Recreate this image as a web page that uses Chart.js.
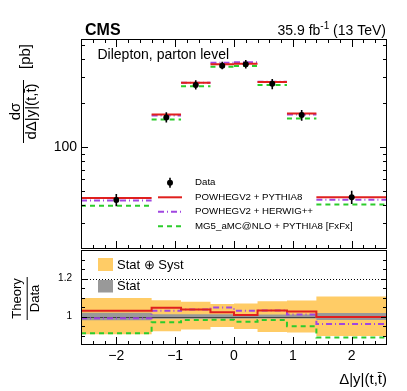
<!DOCTYPE html>
<html>
<head>
<meta charset="utf-8">
<script src="https://cdn.jsdelivr.net/npm/chart.js@4.4.1/dist/chart.umd.min.js"></script>
<style>
  html, body { margin: 0; padding: 0; background: #fff; }
  #wrap { position: relative; width: 407px; height: 391px; }
  #wrap canvas { position: absolute; left: 0; top: 0; }
</style>
</head>
<body>
<div id="wrap">
  <canvas id="ratioChart" width="407" height="391"></canvas>
  <canvas id="mainChart" width="407" height="391"></canvas>
</div>
<script>
// Bins in delta|y|(t,tbar)
const binEdges = [-2.6, -1.4, -0.9, -0.4, 0, 0.4, 0.9, 1.4, 2.6];
const dataX = [-2.0, -1.15, -0.65, -0.2, 0.2, 0.65, 1.15, 2.0];

// Measured cross sections [pb] and relative uncertainties
const dataValues = [43.4, 159.5, 266, 361, 369, 271, 165.5, 45.3];
const totUp = [0.097, 0.086, 0.077, 0.066, 0.068, 0.080, 0.084, 0.105];
const totDown = [0.094, 0.078, 0.068, 0.055, 0.066, 0.081, 0.084, 0.102];
const statUnc = [0.020, 0.012, 0.012, 0.012, 0.010, 0.010, 0.010, 0.018];

// Predictions [pb]
const powhegPythia = [44.7, 166.8, 275.8, 368.9, 372.0, 279.4, 169.8, 45.2];
const powhegHerwig = [43.0, 164.4, 275.8, 378.3, 380.4, 279.7, 167.2, 43.5];
const mg5Pythia = [39.6, 154.6, 261.2, 354.9, 358.7, 265.9, 157.1, 40.3];

// Axis labels
const yMainLabels = [100];
const yRatioLabels = [1, 1.2];
const xLabels = [-2, -1, 0, 1, 2];

const seriesNames = ['Data', 'POWHEGV2 + PYTHIA8', 'POWHEGV2 + HERWIG++', 'MG5_aMC@NLO + PYTHIA8 [FxFx]'];

const FONT = "'Liberation Sans', Arial, Helvetica, sans-serif";
const RED = '#e0201e';
const PURPLE = '#a046e0';
const GREEN = '#2ccc2c';
const ORANGE = '#ffcc66';
const GREY = '#999999';

Chart.defaults.font.family = FONT;
Chart.defaults.color = '#000';

// horizontal segment per bin (gaps between bins)
function binSegments(values) {
    const pts = [];
    values.forEach((v, i) => {
        pts.push({x: binEdges[i], y: v}, {x: binEdges[i + 1], y: v}, {x: binEdges[i + 1], y: null});
    });
    return pts;
}

// histogram-like stepped outline
function stepPoints(values) {
    const pts = values.map((v, i) => ({x: binEdges[i], y: v}));
    pts.push({x: binEdges[binEdges.length - 1], y: values[values.length - 1]});
    return pts;
}

function ratio(model) {
    return model.map((v, i) => v / dataValues[i]);
}

function legendLine(ctx, y, color, dash) {
    ctx.save();
    ctx.strokeStyle = color;
    ctx.lineWidth = 2;
    ctx.setLineDash(dash);
    ctx.beginPath();
    ctx.moveTo(158, y);
    ctx.lineTo(182, y);
    ctx.stroke();
    ctx.restore();
}

const mainDecor = {
    id: 'mainDecor',
    beforeDatasetDraw(chart, args) {
        if (args.index !== 0) return;
        const {ctx, scales: {x, y}} = chart;
        ctx.save();
        ctx.strokeStyle = '#000';
        ctx.lineWidth = 1.6;
        ctx.beginPath();
        dataX.forEach((xv, i) => {
            const px = x.getPixelForValue(xv);
            ctx.moveTo(px, y.getPixelForValue(dataValues[i] * (1 + totUp[i])));
            ctx.lineTo(px, y.getPixelForValue(dataValues[i] * (1 - totDown[i])));
        });
        ctx.stroke();
        ctx.restore();
    },
    afterDraw(chart) {
        const {ctx, chartArea: a, scales: {x, y}} = chart;
        ctx.save();
        ctx.strokeStyle = '#000';
        ctx.lineWidth = 1;
        ctx.strokeRect(a.left + 0.5, a.top + 0.5, a.right - a.left - 1, a.bottom - a.top - 1);

        ctx.beginPath();
        for (let k = -12; k <= 12; k++) {
            const px = Math.round(x.getPixelForValue(k / 5)) + 0.5;
            const len = k % 5 === 0 ? 8 : 4;
            ctx.moveTo(px, a.top); ctx.lineTo(px, a.top + len);
            ctx.moveTo(px, a.bottom); ctx.lineTo(px, a.bottom - len);
        }
        [10, 100].forEach(dec => {
            for (let m = 1; m <= 9; m++) {
                const v = m * dec;
                if (v <= y.min || v >= y.max) continue;
                const py = Math.round(y.getPixelForValue(v)) + 0.5;
                const len = m === 1 ? 7 : 4;
                ctx.moveTo(a.left, py); ctx.lineTo(a.left + len, py);
                ctx.moveTo(a.right, py); ctx.lineTo(a.right - len, py);
            }
        });
        ctx.stroke();

        // header texts
        ctx.fillStyle = '#000';
        ctx.textBaseline = 'alphabetic';
        ctx.textAlign = 'left';
        ctx.font = 'bold 16px ' + FONT;
        ctx.fillText('CMS', 85, 35);

        ctx.font = '14px ' + FONT;
        const w1 = ctx.measureText('35.9 fb').width;
        const w3 = ctx.measureText(' (13 TeV)').width;
        ctx.font = '10px ' + FONT;
        const w2 = ctx.measureText('-1').width;
        let x0 = 386 - (w1 + w2 + w3);
        ctx.font = '14px ' + FONT;
        ctx.fillText('35.9 fb', x0, 35);
        ctx.font = '10px ' + FONT;
        ctx.fillText('-1', x0 + w1, 29);
        ctx.font = '14px ' + FONT;
        ctx.fillText(' (13 TeV)', x0 + w1 + w2, 35);

        ctx.fillText('Dilepton, parton level', 97.5, 59);

        // y title (rotated fraction)
        ctx.save();
        ctx.translate(23, 143);
        ctx.rotate(-Math.PI / 2);
        ctx.lineWidth = 1;
        ctx.beginPath();
        ctx.moveTo(0, 0.5); ctx.lineTo(63, 0.5);
        ctx.stroke();
        ctx.font = '15px ' + FONT;
        ctx.textAlign = 'center';
        ctx.fillText('d\u03c3', 31.5, -3);
        ctx.fillText('d\u0394|y|(t,t\u0304)', 31.5, 13);
        ctx.textAlign = 'left';
        ctx.fillText('[pb]', 74, 7);
        ctx.restore();

        // legend
        const rows = [182.7, 197.3, 211.8, 226.3];
        ctx.beginPath();
        ctx.lineWidth = 1.6;
        ctx.moveTo(170, rows[0] - 5); ctx.lineTo(170, rows[0] + 5);
        ctx.stroke();
        ctx.beginPath();
        ctx.arc(170, rows[0], 3, 0, Math.PI * 2);
        ctx.fill();
        legendLine(ctx, rows[1], RED, []);
        legendLine(ctx, rows[2], PURPLE, [6, 3, 1, 3]);
        legendLine(ctx, rows[3], GREEN, [5, 4]);
        ctx.font = '9.7px ' + FONT;
        ctx.textBaseline = 'middle';
        seriesNames.forEach((n, i) => ctx.fillText(n, 195, rows[i]));
        ctx.restore();
    }
};

const ratioDecor = {
    id: 'ratioDecor',
    beforeDatasetsDraw(chart) {
        const {ctx, chartArea: a, scales: {y}} = chart;
        const py = Math.round(y.getPixelForValue(1.2)) + 0.5;
        ctx.save();
        ctx.strokeStyle = '#000';
        ctx.lineWidth = 1;
        ctx.setLineDash([1, 2]);
        ctx.beginPath();
        ctx.moveTo(a.left, py); ctx.lineTo(a.right, py);
        ctx.stroke();
        ctx.restore();
    },
    afterDatasetDraw(chart, args) {
        if (args.index !== 3) return;
        const {ctx, chartArea: a, scales: {y}} = chart;
        const py = Math.round(y.getPixelForValue(1)) + 0.5;
        ctx.save();
        ctx.strokeStyle = '#444';
        ctx.lineWidth = 1;
        ctx.beginPath();
        ctx.moveTo(a.left, py); ctx.lineTo(a.right, py);
        ctx.stroke();
        ctx.restore();
    },
    afterDraw(chart) {
        const {ctx, chartArea: a, scales: {x, y}} = chart;
        ctx.save();
        ctx.strokeStyle = '#000';
        ctx.lineWidth = 1;
        ctx.strokeRect(a.left + 0.5, a.top + 0.5, a.right - a.left - 1, a.bottom - a.top - 1);
        ctx.beginPath();
        for (let k = -12; k <= 12; k++) {
            const px = Math.round(x.getPixelForValue(k / 5)) + 0.5;
            const len = k % 5 === 0 ? 8 : 4;
            ctx.moveTo(px, a.bottom); ctx.lineTo(px, a.bottom - len);
        }
        for (let k = 18; k <= 26; k++) {
            const py = Math.round(y.getPixelForValue(k * 0.05)) + 0.5;
            const len = (k === 20 || k === 24) ? 6 : 4;
            ctx.moveTo(a.left, py); ctx.lineTo(a.left + len, py);
            ctx.moveTo(a.right, py); ctx.lineTo(a.right - len, py);
        }
        ctx.stroke();

        // band legend
        ctx.fillStyle = ORANGE;
        ctx.fillRect(98, 258, 15, 13);
        ctx.fillStyle = GREY;
        ctx.fillRect(98, 280, 15, 12.5);
        ctx.fillStyle = '#000';
        ctx.font = '13px ' + FONT;
        ctx.textBaseline = 'middle';
        ctx.textAlign = 'left';
        ctx.fillText('Stat \u2295 Syst', 117, 265);
        ctx.fillText('Stat', 117, 286.5);

        // y title
        ctx.save();
        ctx.translate(26.7, 320);
        ctx.rotate(-Math.PI / 2);
        ctx.beginPath();
        ctx.moveTo(0, 0.5); ctx.lineTo(43, 0.5);
        ctx.stroke();
        ctx.font = '13px ' + FONT;
        ctx.textAlign = 'center';
        ctx.textBaseline = 'alphabetic';
        ctx.fillText('Theory', 21.5, -6);
        ctx.fillText('Data', 21.5, 12.3);
        ctx.restore();
        ctx.restore();
    }
};

// Upper panel
new Chart(document.getElementById('mainChart'), {
    type: 'line',
    data: {
        datasets: [{
            label: seriesNames[0],
            data: dataX.map((x, i) => ({x: x, y: dataValues[i]})),
            showLine: false,
            pointRadius: 3,
            pointBackgroundColor: '#000',
            pointBorderColor: '#000',
            pointBorderWidth: 0
        }, {
            label: seriesNames[1],
            data: binSegments(powhegPythia),
            borderColor: RED,
            borderWidth: 2,
            pointRadius: 0,
            spanGaps: false
        }, {
            label: seriesNames[2],
            data: binSegments(powhegHerwig),
            borderColor: PURPLE,
            borderWidth: 2,
            borderDash: [6, 3, 1, 3],
            pointRadius: 0,
            spanGaps: false
        }, {
            label: seriesNames[3],
            data: binSegments(mg5Pythia),
            borderColor: GREEN,
            borderWidth: 2,
            borderDash: [5, 4],
            pointRadius: 0,
            spanGaps: false
        }]
    },
    options: {
        responsive: false,
        devicePixelRatio: 1,
        animation: false,
        events: [],
        layout: {padding: {left: 0, right: 20, top: 39, bottom: 142}},
        plugins: {legend: {display: false}, tooltip: {enabled: false}},
        scales: {
            x: {type: 'linear', min: -2.6, max: 2.6, display: false},
            y: {
                type: 'logarithmic',
                min: 20,
                max: 550,
                afterFit: function(scale) { scale.width = 81; },
                afterBuildTicks: function(scale) { scale.ticks = yMainLabels.map(v => ({value: v})); },
                grid: {display: false, drawTicks: false},
                border: {display: false},
                ticks: {
                    font: {size: 14},
                    padding: 4,
                    color: '#000',
                    callback: v => String(v)
                }
            }
        }
    },
    plugins: [mainDecor]
});

// Ratio panel
const stepBase = {pointRadius: 0, borderWidth: 2, stepped: true, fill: false};
new Chart(document.getElementById('ratioChart'), {
    type: 'line',
    data: {
        datasets: [
            Object.assign({data: stepPoints(ratio(powhegPythia)), borderColor: RED}, stepBase),
            Object.assign({data: stepPoints(ratio(powhegHerwig)), borderColor: PURPLE, borderDash: [6, 3, 1, 3]}, stepBase),
            Object.assign({data: stepPoints(ratio(mg5Pythia)), borderColor: GREEN, borderDash: [5, 4]}, stepBase),
            {
                data: stepPoints(statUnc.map(u => 1 + u)),
                stepped: true, pointRadius: 0, borderWidth: 0,
                borderColor: 'rgba(0,0,0,0)', backgroundColor: GREY, fill: '+1'
            },
            {
                data: stepPoints(statUnc.map(u => 1 - u)),
                stepped: true, pointRadius: 0, borderWidth: 0,
                borderColor: 'rgba(0,0,0,0)', fill: false
            },
            {
                data: stepPoints(totUp.map(u => 1 + u)),
                stepped: true, pointRadius: 0, borderWidth: 0,
                borderColor: 'rgba(0,0,0,0)', backgroundColor: ORANGE, fill: '+1'
            },
            {
                data: stepPoints(totDown.map(u => 1 - u)),
                stepped: true, pointRadius: 0, borderWidth: 0,
                borderColor: 'rgba(0,0,0,0)', fill: false
            }
        ]
    },
    options: {
        responsive: false,
        devicePixelRatio: 1,
        animation: false,
        events: [],
        layout: {padding: {left: 0, right: 20, top: 250, bottom: 0}},
        plugins: {legend: {display: false}, tooltip: {enabled: false}},
        scales: {
            x: {
                type: 'linear',
                min: -2.6,
                max: 2.6,
                afterFit: function(scale) { scale.height = 46; },
                afterBuildTicks: function(scale) { scale.ticks = xLabels.map(v => ({value: v})); },
                grid: {display: false, drawTicks: false},
                border: {display: false},
                ticks: {
                    font: {size: 14},
                    padding: 3,
                    maxRotation: 0,
                    autoSkip: false,
                    color: '#000',
                    callback: v => v < 0 ? '\u2212' + Math.abs(v) : String(v)
                },
                title: {
                    display: true,
                    text: '\u0394|y|(t,t\u0304)',
                    align: 'end',
                    color: '#000',
                    font: {size: 15},
                    padding: {top: 0, bottom: 2}
                }
            },
            y: {
                min: 0.85,
                max: 1.35,
                afterFit: function(scale) { scale.width = 81; },
                afterBuildTicks: function(scale) { scale.ticks = yRatioLabels.map(v => ({value: v})); },
                grid: {display: false, drawTicks: false},
                border: {display: false},
                ticks: {
                    font: {size: 10},
                    padding: 9,
                    color: '#000',
                    callback: v => String(v)
                }
            }
        }
    },
    plugins: [ratioDecor]
});
</script>
</body>
</html>
